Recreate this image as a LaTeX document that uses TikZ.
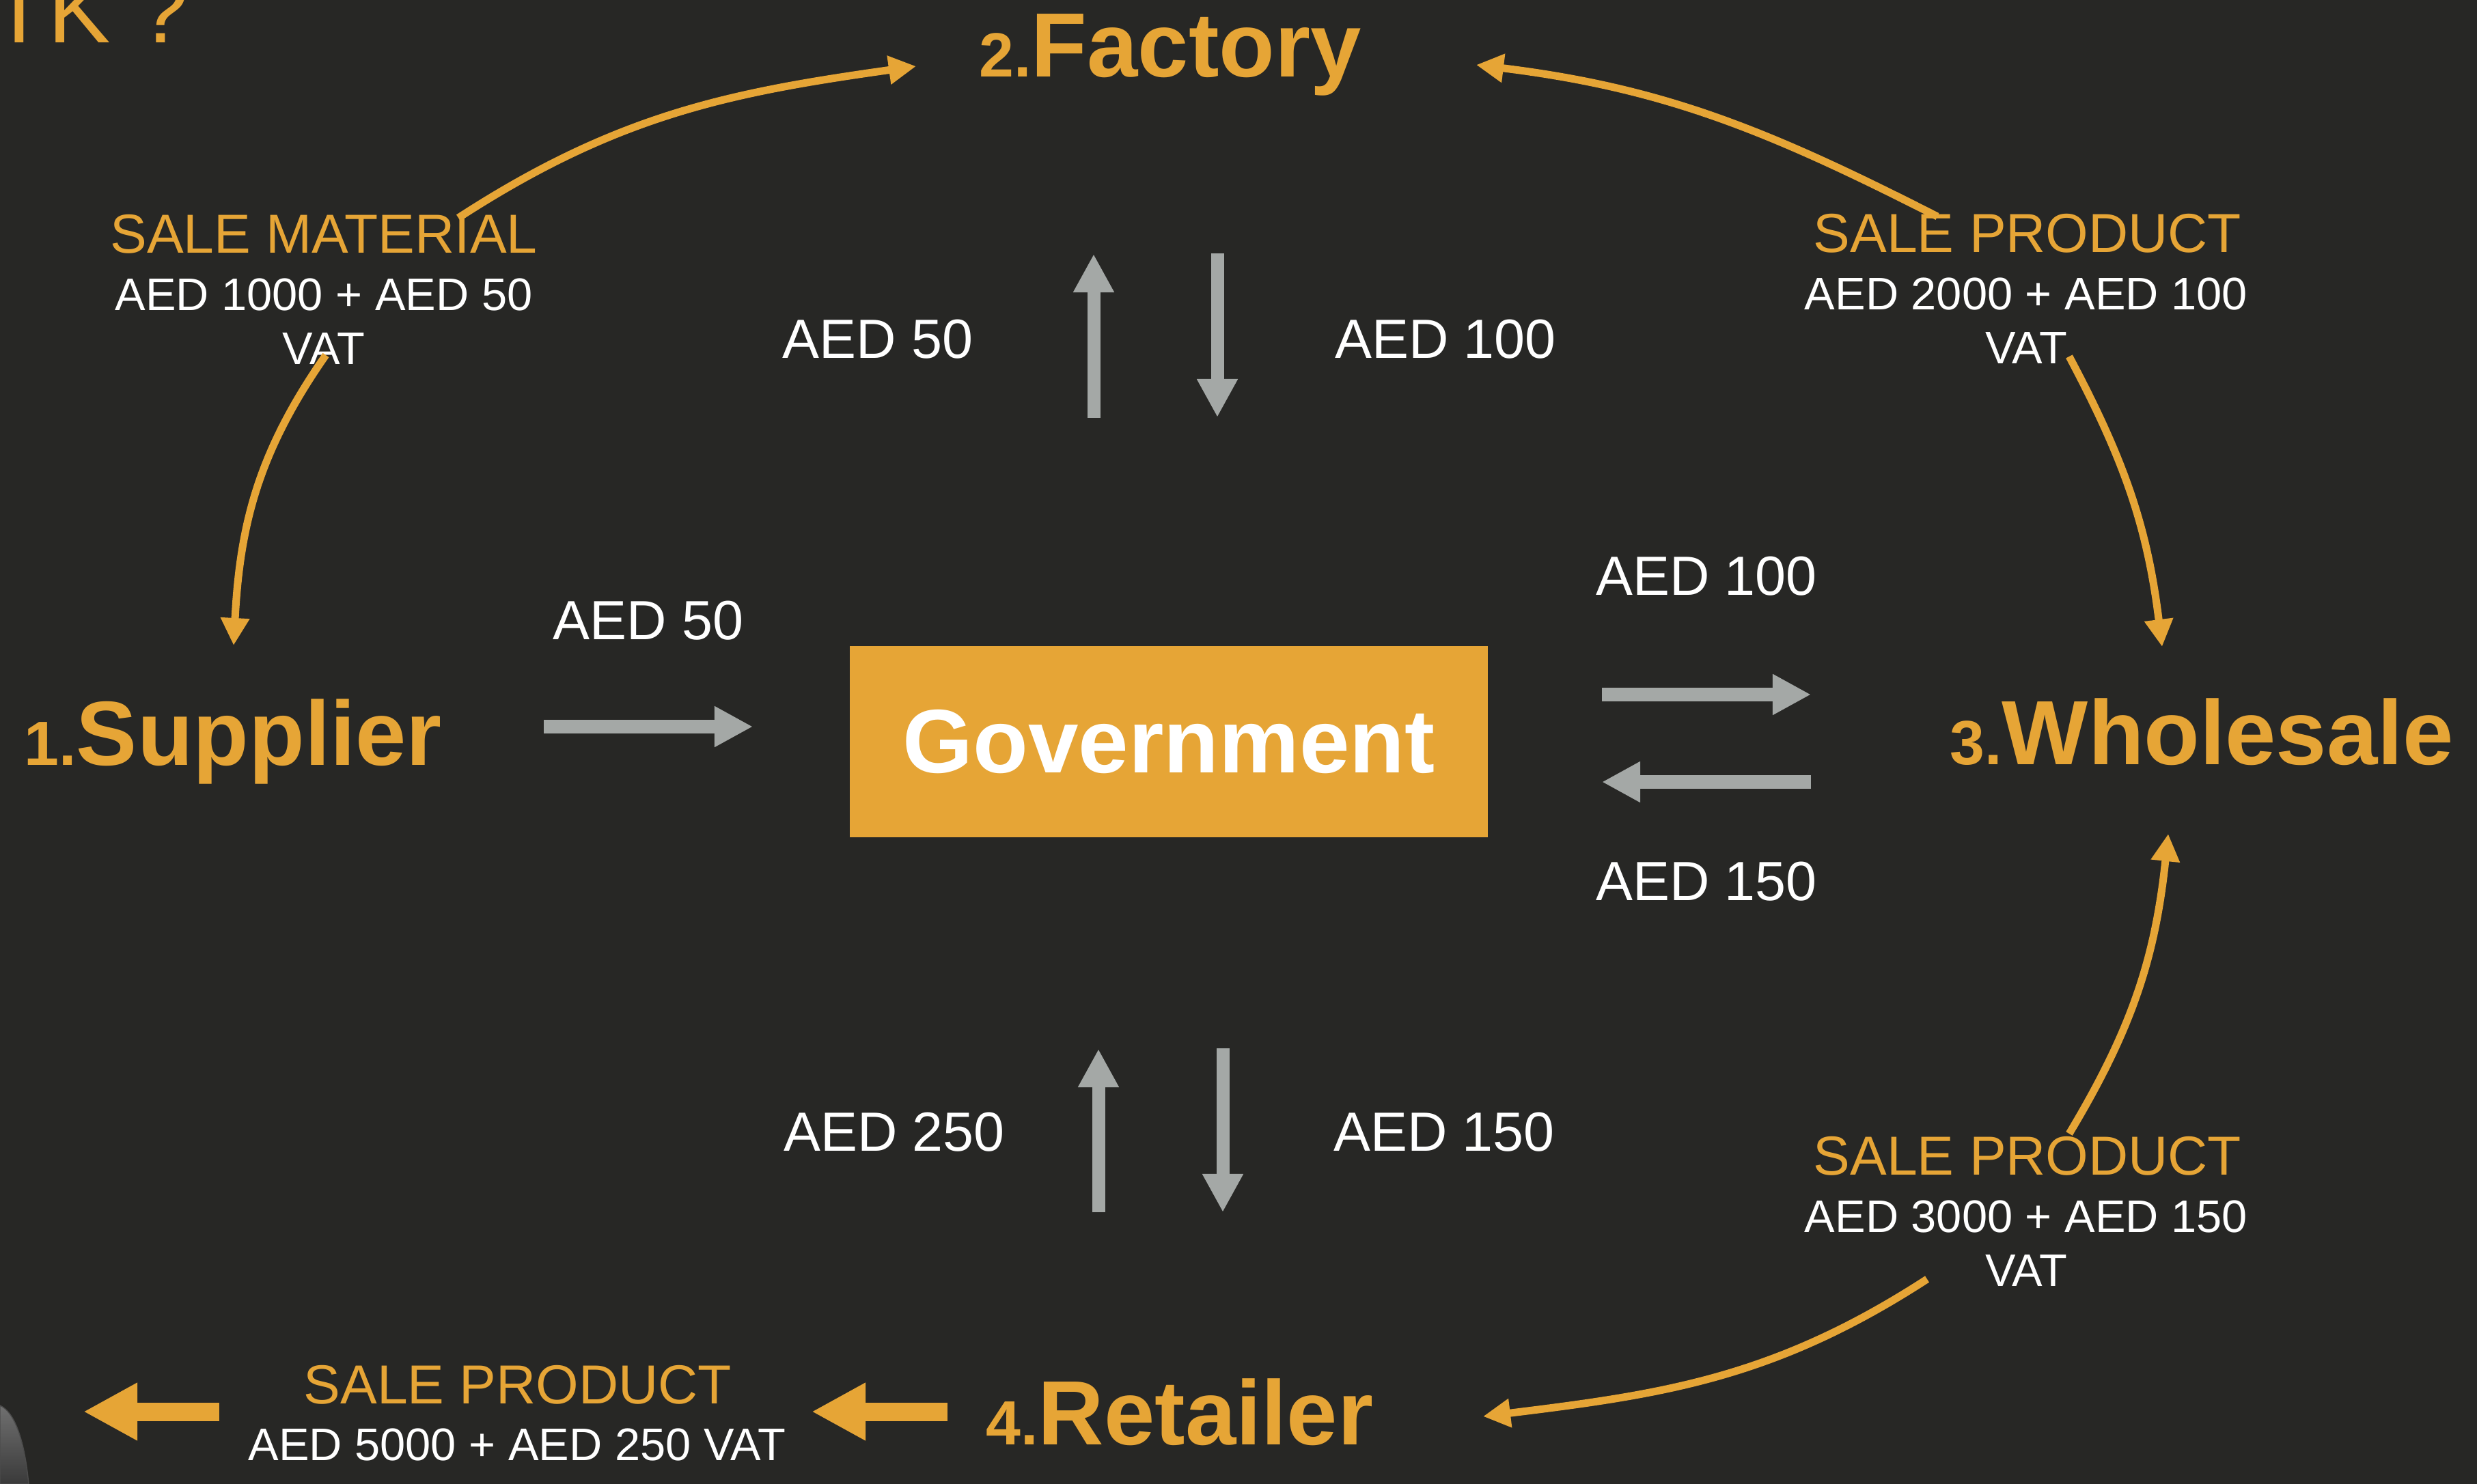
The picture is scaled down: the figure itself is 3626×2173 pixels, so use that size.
\documentclass[tikz,border=0pt]{standalone}
\usepackage{fontspec}
\setmainfont{Liberation Sans}
\usetikzlibrary{arrows.meta}
\definecolor{vatorange}{HTML}{E6A536}
\definecolor{taxgray}{HTML}{A4A8A6}
\definecolor{slide}{HTML}{272725}
\definecolor{shapetop}{HTML}{707070}
\definecolor{shapebot}{HTML}{3A3A3A}
\newcommand{\partno}[1]{{\fontsize{26}{30}\selectfont #1}}

\begin{document}
\begin{tikzpicture}[x=0.01cm, y=0.01cm,
    every node/.style={inner sep=0pt, anchor=base},
    amount/.style={text=white, font=\fontsize{23}{27}\selectfont},
    saletitle/.style={text=vatorange, font=\fontsize{22.9}{27}\selectfont},
    saletext/.style={text=white, font=\fontsize{19}{23}\selectfont},
    party/.style={text=vatorange, anchor=base west, font=\bfseries\fontsize{38}{44}\selectfont},
    flow/.style={draw=vatorange, line width=0.11cm, -{Triangle[length=0.4cm, width=0.4cm]}},
    tax/.style={draw=taxgray, line width=0.19cm, -{Triangle[length=0.56cm, width=0.56cm]}},
    sell/.style={draw=vatorange, line width=0.27cm, -{Triangle[length=0.79cm, width=0.79cm]}}]
    \useasboundingbox (0,0) rectangle (3626,-2173);
    \fill[slide] (0,0) rectangle (3626,-2173);
    \shade[top color=shapetop, bottom color=shapebot, draw=black!70] (0,-2058) .. controls (22,-2068) and (36,-2110) .. (42,-2173) -- (0,-2173) -- cycle;

    \node[text=vatorange, anchor=base west, font=\fontsize{39}{45}\selectfont] (title) at (-14,-63) {TK ?};

    \node[party] (factory) at (1433,-113) {\partno{2.}Factory};
    \node[party] (supplier) at (35,-1120) {\partno{1.}Supplier};
    \node[party] (wholesale) at (2854,-1119) {\partno{3.}Wholesale};
    \node[party] (retailer) at (1443,-2115) {\partno{4.}Retailer};
    \node[fill=vatorange, minimum width=9.34cm, minimum height=2.8cm, anchor=center,
          text=white, font=\bfseries\fontsize{37.6}{44}\selectfont] (gov) at (1711,-1086) {Government};

    \node[saletitle] (mat) at (474,-371) {SALE MATERIAL};
    \node[saletext] (matsum) at (474,-455) {AED 1000 + AED 50};
    \node[saletext] (matvat) at (474,-534) {VAT};
    \node[saletitle] (prod) at (2968,-370) {SALE PRODUCT};
    \node[saletext] (prodsum) at (2966,-454) {AED 2000 + AED 100};
    \node[saletext] (prodvat) at (2966,-533) {VAT};
    \node[saletitle] (whl) at (2968,-1720) {SALE PRODUCT};
    \node[saletext] (whlsum) at (2966,-1804) {AED 3000 + AED 150};
    \node[saletext] (whlvat) at (2966,-1883) {VAT};
    \node[saletitle] (ret) at (758,-2055) {SALE PRODUCT};
    \node[saletext] (retsum) at (757,-2138) {AED 5000 + AED 250 VAT};

    \node[amount] (supvat) at (949,-936) {AED 50};
    \node[amount] (facin) at (1285,-525) {AED 50};
    \node[amount] (facout) at (2116,-525) {AED 100};
    \node[amount] (whlin) at (2498,-871) {AED 100};
    \node[amount] (whlout) at (2498,-1318) {AED 150};
    \node[amount] (retin) at (1309,-1685) {AED 250};
    \node[amount] (retout) at (2114,-1685) {AED 150};

    \coordinate (matA) at (671,-319);
    \coordinate (facL) at (1341,-97);
    \coordinate (matB) at (477,-520);
    \coordinate (supT) at (342,-945);
    \coordinate (prodA) at (2836,-317);
    \coordinate (facR) at (2161,-95);
    \coordinate (prodB) at (3029,-522);
    \coordinate (whlT) at (3165,-947);
    \coordinate (whlA) at (3029,-1660);
    \coordinate (whlB) at (3174,-1221);
    \coordinate (retA) at (2821,-1873);
    \coordinate (retR) at (2171,-2074);

    \draw[flow] (matA) to[out=33, in=188] (facL);
    \draw[flow] (matB) to[out=235, in=87] (supT);
    \draw[flow] (prodA) to[out=153, in=-7] (facR);
    \draw[flow] (prodB) to[out=-62, in=97] (whlT);
    \draw[flow] (whlA) to[out=59, in=-96] (whlB);
    \draw[flow] (retA) to[out=213, in=7] (retR);

    \coordinate (s1) at (796,-1064);
    \coordinate (s2) at (1102,-1064);
    \coordinate (f1) at (1601,-612);
    \coordinate (f2) at (1601,-372);
    \coordinate (f3) at (1782,-371);
    \coordinate (f4) at (1782,-611);
    \coordinate (w1) at (2345,-1017);
    \coordinate (w2) at (2651,-1017);
    \coordinate (w3) at (2651,-1145);
    \coordinate (w4) at (2345,-1145);
    \coordinate (r1) at (1608,-1775);
    \coordinate (r2) at (1608,-1536);
    \coordinate (r3) at (1790,-1535);
    \coordinate (r4) at (1790,-1775);

    \draw[tax] (s1) -- (s2);
    \draw[tax] (f1) -- (f2);
    \draw[tax] (f3) -- (f4);
    \draw[tax] (w1) -- (w2);
    \draw[tax] (w3) -- (w4);
    \draw[tax] (r1) -- (r2);
    \draw[tax] (r3) -- (r4);

    \coordinate (b1) at (1387,-2067);
    \coordinate (b2) at (1188,-2067);
    \coordinate (b3) at (321,-2067);
    \coordinate (b4) at (122,-2067);
    \draw[sell] (b1) -- (b2);
    \draw[sell] (b3) -- (b4);
\end{tikzpicture}
\end{document}
